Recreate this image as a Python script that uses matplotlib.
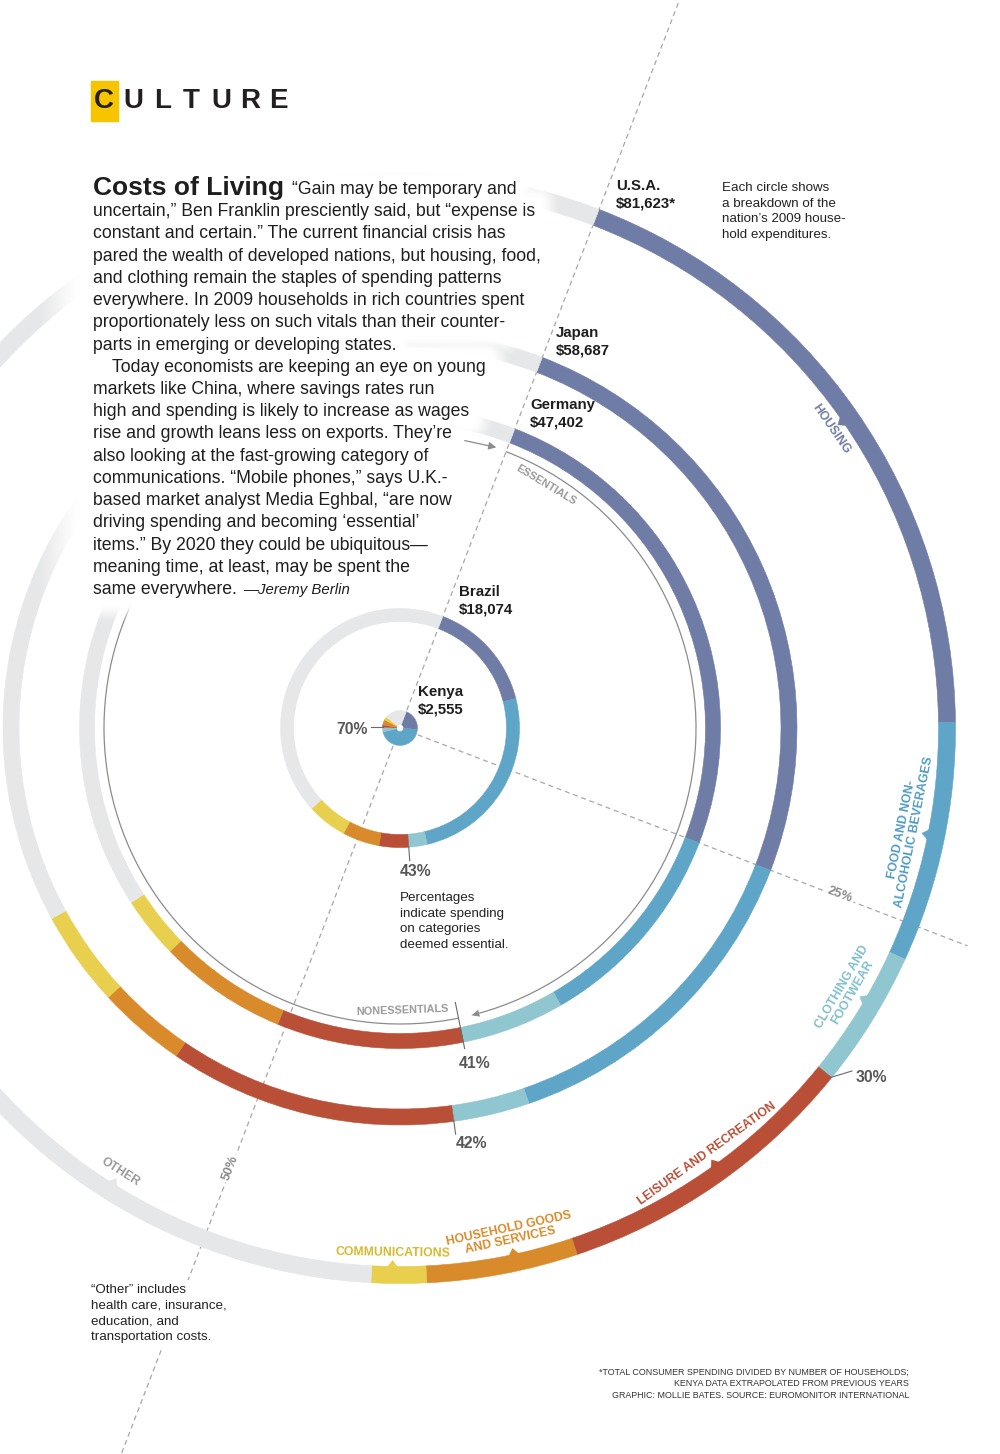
import numpy as np
import matplotlib
matplotlib.use("Agg")
import matplotlib.pyplot as plt
from matplotlib.patches import Wedge, Polygon, Rectangle, Arc

# ---- data (shares of 2009 household spending, %) ----
categories = ["Housing", "Food and non-alcoholic beverages", "Clothing and footwear",
              "Leisure and recreation", "Household goods and services",
              "Communications", "Other"]
countries = ["U.S.A.", "Japan", "Germany", "Brazil", "Kenya"]
spend_per_household = ["$81,623*", "$58,687", "$47,402", "$18,074", "$2,555"]
usa_share = [19.0, 7.0, 4.0, 9.0, 4.4, 1.6, 55.0]
japan_share = [25.0, 13.9, 3.1, 11.7, 3.6, 3.9, 38.8]
germany_share = [25.0, 10.8, 5.2, 9.4, 6.5, 3.1, 40.0]
brazil_share = [15.2, 25.3, 2.5, 4.0, 5.0, 5.4, 42.6]
kenya_share = [20.5, 45.0, 4.5, 2.0, 5.0, 3.0, 20.0]
essential_pct = [30, 42, 41, 43, 70]

cat_colors = ["#6f7ca5", "#5fa5c7", "#90c6d0", "#b94f37", "#d98b2b", "#e8cf4e", "#e6e7e8"]
cat_text_colors = ["#6f7ca5", "#4f9bc2", "#80bfcb", "#b94f37", "#d98b2b", "#d6b92e", "#9a9a9a"]
cat_labels = ["HOUSING", "FOOD AND NON-\nALCOHOLIC BEVERAGES", "CLOTHING AND\nFOOTWEAR",
              "LEISURE AND RECREATION", "HOUSEHOLD GOODS\nAND SERVICES",
              "COMMUNICATIONS", "OTHER"]
cat_label_theta = [55.3, 101.4, 120.3, 144.2, 167.8, 180.8, 212.2]

W, H = 1000, 1454
CX, CY = 400, 728     # centre of the rings (pixels, y down)
START = 21.0          # rings start on the dashed line, degrees clockwise from north

FONT = ["Liberation Sans", "DejaVu Sans"]
NARROW = ["Liberation Sans Narrow", "Liberation Sans", "DejaVu Sans"]


def polar(r, theta):
    t = np.radians(theta)
    return CX + r * np.sin(t), H - CY + r * np.cos(t)


def pix(x, y):
    return x, H - y


fig = plt.figure(figsize=(10, 14.54), dpi=100)
ax = fig.add_axes([0, 0, 1, 1])
ax.set_xlim(0, W)
ax.set_ylim(0, H)
ax.axis("off")

# ---- dashed guide lines ----
dash = dict(color="#a8a8a8", lw=0.9, ls=(0, (4, 3)), zorder=1)
for ang in (START, START + 180):
    a, b = polar(19, ang), polar(2000, ang)
    ax.plot([a[0], b[0]], [a[1], b[1]], **dash)
a, b = polar(19, START + 90), polar(608, START + 90)
ax.plot([a[0], b[0]], [a[1], b[1]], **dash)
ax.text(*pix(840, 895), "25%", rotation=-START, fontsize=9.3, color="#8a8a8a",
        family=FONT, fontweight="bold", ha="center", va="center", rotation_mode="anchor",
        bbox=dict(fc="white", ec="none", pad=1.5), zorder=1.5)
ax.text(*pix(230, 1168), "50%", rotation=90 - START, fontsize=9.3, color="#8a8a8a",
        family=FONT, fontweight="bold", ha="center", va="center", rotation_mode="anchor",
        bbox=dict(fc="white", ec="none", pad=1.5), zorder=1.5)

# ---- rings ----
ring_shares = [usa_share, japan_share, germany_share, brazil_share]
ring_r = [547, 389, 313, 113]
ring_w = [17, 16, 15, 13]
for shares, r, w in zip(ring_shares, ring_r, ring_w):
    edges = START + 360 * np.concatenate([[0], np.cumsum(shares)]) / 100
    for i, c in enumerate(cat_colors):
        ax.add_patch(Wedge((CX, H - CY), r + w / 2, 90 - edges[i + 1], 90 - edges[i],
                           width=w, facecolor=c, edgecolor=c, lw=0.4, zorder=2))

# Kenya as a tiny donut
edges = START + 360 * np.concatenate([[0], np.cumsum(kenya_share)]) / 100
for i, c in enumerate(cat_colors):
    ax.add_patch(Wedge((CX, H - CY), 17.5, 90 - edges[i + 1], 90 - edges[i],
                       width=14, facecolor=c, edgecolor=c, lw=0.3, zorder=2))

# ---- essentials / nonessentials guide circle ----
R_G = 296
ess_end = 164.5
ax.add_patch(Arc((CX, H - CY), 2 * R_G, 2 * R_G, theta1=90 - ess_end, theta2=90 - START,
                 color="#8c8c8c", lw=0.9, zorder=2.5))
t = np.radians(ess_end)
p = np.array(polar(R_G, ess_end))
tan = np.array([np.cos(t), -np.sin(t)])
nrm = np.array([np.sin(t), np.cos(t)])
ax.add_patch(Polygon([p + 8 * tan, p + 3.5 * nrm, p - 3.5 * nrm], closed=True,
                     color="#8c8c8c", lw=0, zorder=2.5))
g_tick = START + 3.6 * essential_pct[2]
ax.add_patch(Arc((CX, H - CY), 2 * R_G, 2 * R_G, theta1=90 - 302, theta2=90 - g_tick,
                 color="#8c8c8c", lw=0.9, zorder=2.5))
ax.annotate("", xy=pix(499, 448), xytext=pix(462, 440),
            arrowprops=dict(arrowstyle="-|>", color="#8c8c8c", lw=0.9,
                            mutation_scale=11), zorder=4)
ax.text(*polar(283, 31), "ESSENTIALS", rotation=-31, fontsize=7.8, color="#9a9a9a",
        family=NARROW, fontweight="bold", ha="center", va="center", rotation_mode="anchor",
        zorder=4)
ax.text(*pix(402, 1010), "NONESSENTIALS", rotation=2, fontsize=7.8, color="#9a9a9a",
        family=NARROW, fontweight="bold", ha="center", va="center", rotation_mode="anchor",
        zorder=4)

# ---- notches and category labels on the U.S. ring ----
r_in = ring_r[0] - ring_w[0] / 2
for lab, th, col, tcol in zip(cat_labels, cat_label_theta, cat_colors, cat_text_colors):
    d = np.degrees(5.5 / r_in)
    tri = [polar(r_in + 1, th - d), polar(r_in + 1, th + d), polar(r_in - 6, th)]
    ax.add_patch(Polygon(tri, closed=True, facecolor=col, edgecolor=col, lw=0.3, zorder=2))
    rot = -th if (th < 90 or th > 270) else 180 - th
    nl = lab.count("\n")
    ax.text(*polar(r_in - 14 - 6 * nl, th), lab, rotation=rot, rotation_mode="anchor",
            ha="center", va="center", multialignment="center", fontsize=8.8,
            linespacing=1.0, color=tcol, family=NARROW, fontweight="bold", zorder=4)

# ---- essential-share ticks ----
pct_color = "#575757"
tick_kw = dict(color="#6a6a6a", lw=0.8, zorder=3)
pct_kw = dict(fontsize=11.3, fontweight="bold", color=pct_color, family=FONT,
              ha="center", va="center", zorder=4)
# U.S.A.
a = START + 3.6 * essential_pct[0]
p0, p1 = polar(ring_r[0] + 8, a), pix(852, 1071)
ax.plot([p0[0], p1[0]], [p0[1], p1[1]], **tick_kw)
ax.text(*pix(871, 1077), f"{essential_pct[0]}%", **pct_kw)
# Japan
a = START + 3.6 * essential_pct[1]
p0, p1 = polar(ring_r[1] + 7, a), polar(ring_r[1] + 21, a)
ax.plot([p0[0], p1[0]], [p0[1], p1[1]], **tick_kw)
ax.text(*pix(471, 1143), f"{essential_pct[1]}%", **pct_kw)
# Germany
a = START + 3.6 * essential_pct[2]
p0, p1 = polar(R_G - 16, a), polar(ring_r[2] + 14, a)
ax.plot([p0[0], p1[0]], [p0[1], p1[1]], **tick_kw)
ax.text(*pix(475, 1063), f"{essential_pct[2]}%", **pct_kw)
# Brazil
a = START + 3.6 * essential_pct[3]
p0, p1 = polar(ring_r[3] + 6, a), polar(ring_r[3] + 20, a)
ax.plot([p0[0], p1[0]], [p0[1], p1[1]], **tick_kw)
ax.text(*pix(416, 871), f"{essential_pct[3]}%", **pct_kw)
# Kenya
a = START + 3.6 * essential_pct[4]
p0 = polar(17, a)
ax.plot([p0[0], 371], [p0[1], p0[1]], **tick_kw)
ax.text(*pix(352, 730), f"{essential_pct[4]}%", **pct_kw)

# ---- country labels ----
country_pos = [(616, 179), (556, 326), (530, 398), (459, 585), (418, 685)]
for name, val, (x, y) in zip(countries, spend_per_household, country_pos):
    ax.text(*pix(x, y), f"{name}\n{val}", fontsize=10.8, fontweight="bold", color="#1e1e1e",
            family=FONT, ha="left", va="top", linespacing=1.3, zorder=5)

# ---- header ----
ax.add_patch(Rectangle(pix(91, 121), 27, 40, color="#f6c500", zorder=4))
for ch, x in zip("CULTURE", [104, 133, 163, 191, 221, 250, 278]):
    ax.text(*pix(x, 101), ch, fontsize=20, fontweight="bold", color="#231f20",
            family=FONT, ha="center", va="center", zorder=5)

# ---- body text ----
body = [
    "“Gain may be temporary and",
    "uncertain,” Ben Franklin presciently said, but “expense is",
    "constant and certain.” The current financial crisis has",
    "pared the wealth of developed nations, but housing, food,",
    "and clothing remain the staples of spending patterns",
    "everywhere. In 2009 households in rich countries spent",
    "proportionately less on such vitals than their counter-",
    "parts in emerging or developing states.",
    "Today economists are keeping an eye on young",
    "markets like China, where savings rates run",
    "high and spending is likely to increase as wages",
    "rise and growth leans less on exports. They’re",
    "also looking at the fast-growing category of",
    "communications. “Mobile phones,” says U.K.-",
    "based market analyst Media Eghbal, “are now",
    "driving spending and becoming ‘essential’",
    "items.” By 2020 they could be ubiquitous—",
    "meaning time, at least, may be spent the",
    "same everywhere.",
]
body_texts = []
t_title = ax.text(*pix(93, 195), "Costs of Living", fontsize=19, fontweight="bold",
                  color="#1e1e1e", family=FONT, ha="left", va="baseline", zorder=5)
body_texts.append(t_title)
for k, line in enumerate(body):
    x = 292 if k == 0 else (112 if k == 8 else 93)
    y = 194 + 22.22 * k
    body_texts.append(ax.text(*pix(x, y), line, fontsize=12.7, color="#1e1e1e", family=FONT,
                              ha="left", va="baseline", zorder=5))
body_texts.append(ax.text(*pix(243, 194 + 22.22 * 18), "—Jeremy Berlin", fontsize=10.8,
                          style="italic", color="#1e1e1e", family=FONT, ha="left",
                          va="baseline", zorder=5))

# ---- notes ----
note_kw = dict(fontsize=9.6, color="#222222", family=FONT, ha="left", va="top",
               linespacing=1.4, zorder=5)
ax.text(*pix(722, 182), "Each circle shows\na breakdown of the\nnation’s 2009 house-\nhold expenditures.",
        **note_kw)
ax.text(*pix(400, 892), "Percentages\nindicate spending\non categories\ndeemed essential.", **note_kw)
ax.text(*pix(91, 1284), "“Other” includes\nhealth care, insurance,\neducation, and\ntransportation costs.",
        bbox=dict(fc="white", ec="none", pad=3), **note_kw)
ax.text(*pix(909, 1368),
        "*TOTAL CONSUMER SPENDING DIVIDED BY NUMBER OF HOUSEHOLDS;\n"
        "KENYA DATA EXTRAPOLATED FROM PREVIOUS YEARS\n"
        "GRAPHIC: MOLLIE BATES. SOURCE: EUROMONITOR INTERNATIONAL",
        fontsize=6.4, color="#333333", family=FONT, ha="right", va="top",
        multialignment="right", linespacing=1.35, zorder=5)

# ---- soft white mask behind the article text ----
fig.canvas.draw()
renderer = fig.canvas.get_renderer()
X, Y = np.meshgrid(np.arange(W) + 0.5, np.arange(H) + 0.5)
alpha = np.zeros((H, W))
pad, feather = 5.0, 22.0
for t in body_texts:
    bb = t.get_window_extent(renderer)
    dx = np.maximum(np.maximum(bb.x0 - X, X - bb.x1), 0)
    dx = np.where(X < bb.x0, dx * 0.45, dx)   # softer fade on the left edge
    dy = np.maximum(np.maximum(bb.y0 - Y, Y - bb.y1), 0)
    d = np.hypot(dx, dy)
    s = np.clip(1 - (d - pad) / feather, 0, 1)
    alpha = np.maximum(alpha, s * s * (3 - 2 * s))
rgba = np.ones((H, W, 4))
rgba[..., 3] = alpha
ax.imshow(rgba, extent=(0, W, 0, H), origin="lower", zorder=3, aspect="auto",
          interpolation="bilinear")
ax.set_xlim(0, W)
ax.set_ylim(0, H)

fig.savefig("out.png", dpi=100, facecolor="white")
